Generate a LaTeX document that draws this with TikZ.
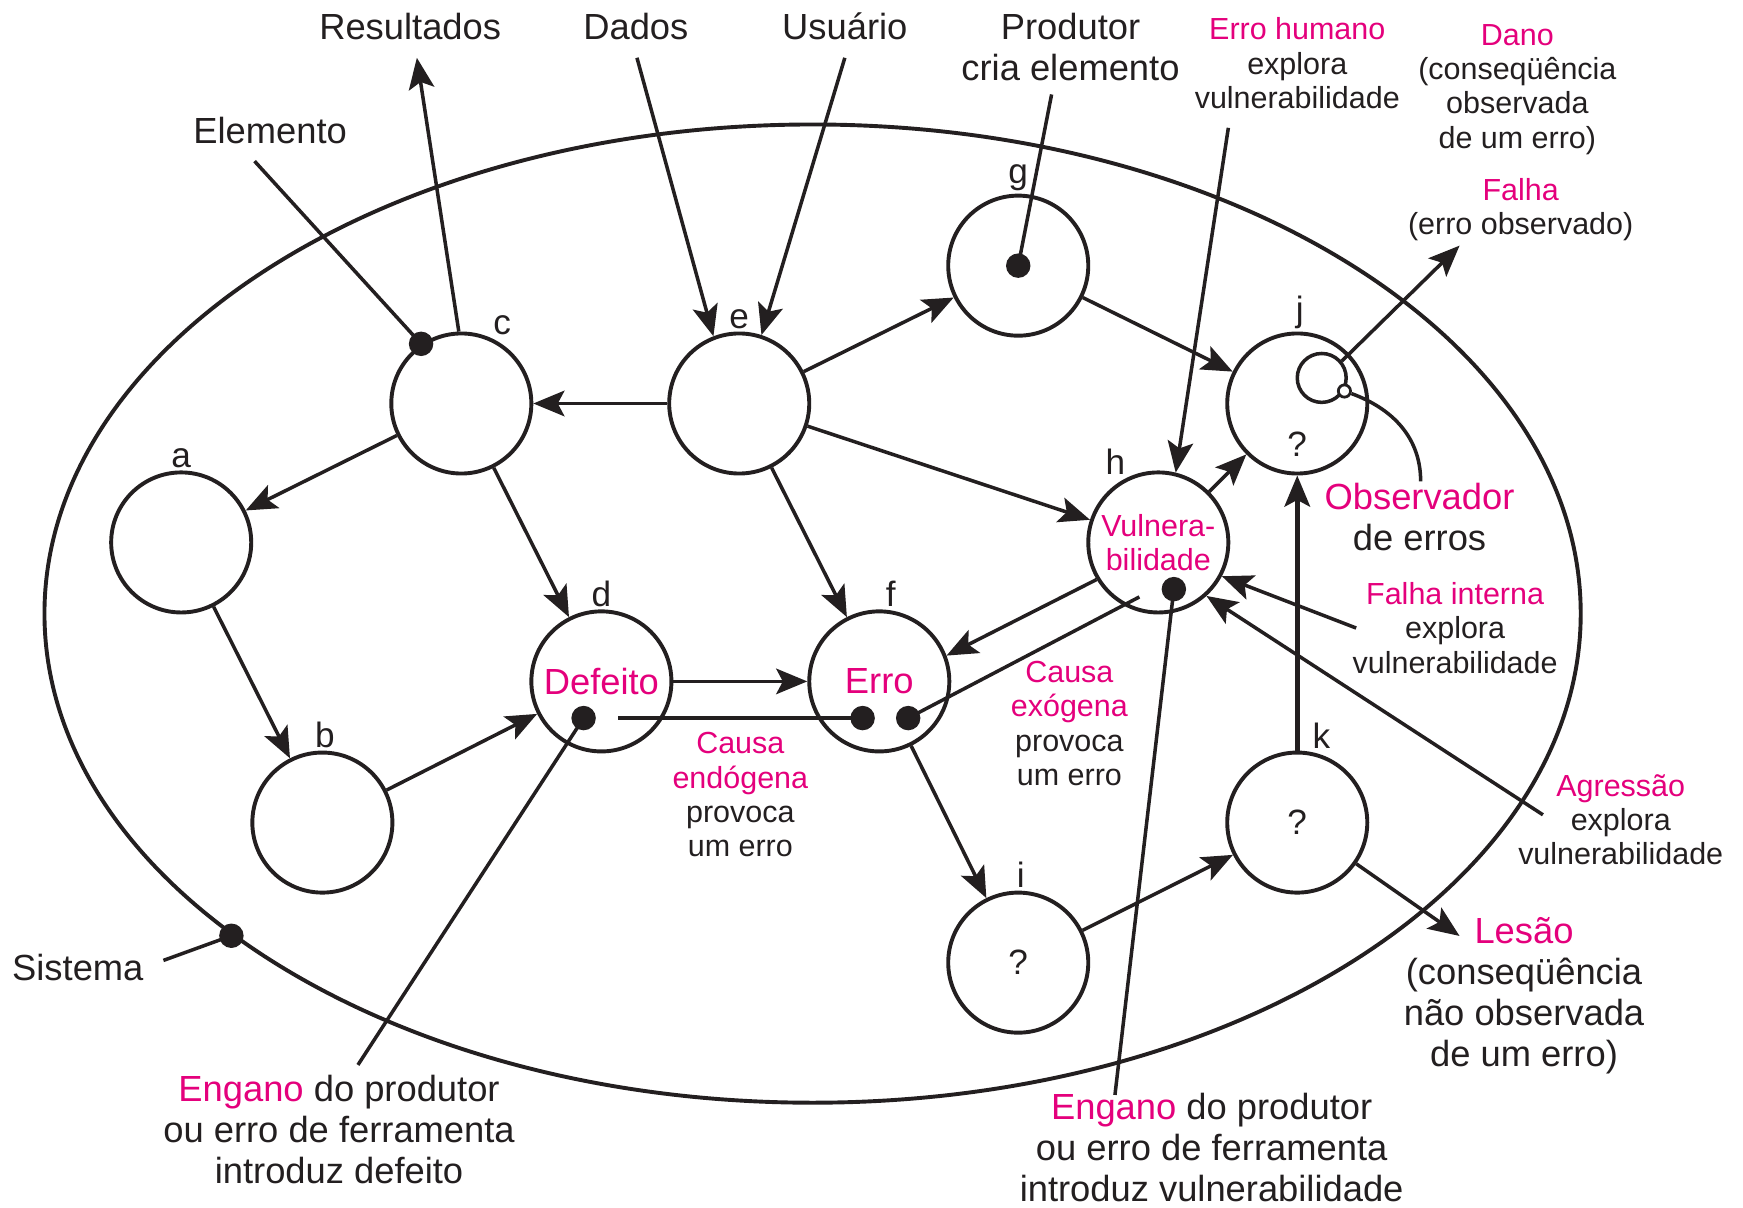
\documentclass[tikz,border=0pt]{standalone}
\usepackage{fontspec}
\setmainfont{Liberation Sans}
\usepackage{xcolor}
\usetikzlibrary{arrows.meta, calc, positioning, shapes.geometric}
\definecolor{rosa}{RGB}{228,0,124}
\definecolor{tinta}{RGB}{35,31,32}
\newcommand{\grande}{\fontsize{9.3}{10.5}\selectfont}
\newcommand{\pequena}{\fontsize{7.8}{8.8}\selectfont}
\newcommand{\media}{\fontsize{9}{10}\selectfont}
\newcommand{\rosa}[1]{\textcolor{rosa}{#1}}
\tikzset{
  % Graph arrow style
  garr/.style={
    -{Stealth[length=2.8mm, width=2.3mm, inset=0.6mm]},
    line width = 0.9pt
  },
  gline/.style={line width = 0.9pt},
  % elements of the system
  elem/.style={circle, draw, line width=1pt, minimum size=12.6mm,
    inner sep=0pt, font=\media},
  lbl/.style={font=\media, inner sep=0.5pt},
  bola/.style={circle, fill, inner sep=0pt, minimum size=2.2mm},
  anel/.style={circle, draw, line width=0.9pt, minimum size=4.4mm, inner sep=0pt},
  furo/.style={circle, draw, fill=white, line width=0.7pt, minimum size=1.1mm, inner sep=0pt},
  txtg/.style={align=center, font=\grande},
  txtp/.style={align=center, font=\pequena},
}

\begin{document}
\begin{tikzpicture}[color=tinta, text=tinta]
      \useasboundingbox (0,0) rectangle (15.68,10.86);

      % the system
      \node[draw, ellipse, line width=1pt, minimum width=13.82cm,
        minimum height=8.80cm, inner sep=0pt] (sis) at (7.31,5.34) {};

      % elements
      \node[elem, label={[lbl]90:a}] (a) at (1.63,5.98) {};
      \node[elem, label={[lbl]88:b}] (b) at (2.90,3.46) {};
      \node[elem, label={[lbl]66:c}] (c) at (4.15,7.23) {};
      \node[elem, label={[lbl]90:d}, font=\grande, text=rosa] (d) at (5.41,4.73) {Defeito};
      \node[elem, label={[lbl]90:e}] (e) at (6.65,7.23) {};
      \node[elem, label={[lbl]87:f}, font=\grande, text=rosa] (f) at (7.91,4.73) {Erro};
      \node[elem, label={[lbl]90:g}] (g) at (9.16,8.47) {};
      \node[elem, label={[lbl]115:h}, font=\pequena, text=rosa, align=center] (h) at (10.42,5.98) {Vulnera-\\bilidade};
      \node[elem, label={[lbl]88:i}] (i) at (9.16,2.20) {?};
      \node[elem, label={[lbl]88:j}] (j) at (11.67,7.23) {};
      \node[elem, label={[lbl]80:k}] (k) at (11.67,3.46) {?};
      \node[lbl] (jq) at ($(j)+(0,-0.37)$) {?};

      % observer inside j
      \node[anel] (jo) at ($(j)+(0.22,0.23)$) {};
      \node[furo] (jp) at (jo.-30) {};

      % pins
      \node[bola] (cpin) at (c.124) {};
      \node[bola] (gpin) at (g) {};
      \node[bola] (dpin) at ($(d)+(-0.16,-0.33)$) {};
      \node[bola] (fpin1) at ($(f)+(-0.15,-0.33)$) {};
      \node[bola] (fpin2) at ($(f)+(0.26,-0.33)$) {};
      \node[bola] (hpin) at ($(h)+(0.14,-0.42)$) {};
      \node[bola] (spin) at (sis.209) {};
      \coordinate (dEndo) at ($(d)+(0.15,-0.33)$);
      \coordinate (hExo) at ($(h)+(-0.17,-0.49)$);

      % texts
      \node[txtg] (resultados) at (3.69,10.62) {Resultados};
      \node[txtg] (dados) at (5.72,10.62) {Dados};
      \node[txtg] (usuario) at (7.60,10.62) {Usuário};
      \node[txtg] (produtor) at (9.63,10.435) {Produtor\\cria elemento};
      \node[txtg] (elemento) at (2.43,9.69) {Elemento};
      \node[txtp] (humano) at (11.67,10.29) {\rosa{Erro humano}\\explora\\vulnerabilidade};
      \node[txtp] (dano) at (13.65,10.055) {\rosa{Dano}\\(conseqüência\\observada\\de um erro)};
      \node[txtp] (falha) at (13.68,8.975) {\rosa{Falha}\\(erro observado)};
      \node[txtg] (observador) at (12.77,6.205) {\rosa{Observador}\\de erros};
      \node[txtp] (interna) at (13.09,5.21) {\rosa{Falha interna}\\explora\\vulnerabilidade};
      \node[txtp] (agressao) at (14.58,3.485) {\rosa{Agressão}\\explora\\vulnerabilidade};
      \node[txtg] (lesao) at (13.71,1.905) {\rosa{Lesão}\\(conseqüência\\não observada\\de um erro)};
      \node[txtp] (endo) at (6.66,3.71) {\rosa{Causa}\\\rosa{endógena}\\provoca\\um erro};
      \node[txtp] (exo) at (9.62,4.35) {\rosa{Causa}\\\rosa{exógena}\\provoca\\um erro};
      \node[txtg] (engano1) at (3.05,0.695) {\rosa{Engano} do produtor\\ou erro de ferramenta\\introduz defeito};
      \node[txtg] (engano2) at (10.90,0.535) {\rosa{Engano} do produtor\\ou erro de ferramenta\\introduz vulnerabilidade};
      \node[txtg] (sistema) at (0.70,2.16) {Sistema};

      % free ends
      \coordinate (pRes) at (3.75,10.34);
      \coordinate (pDad) at (5.73,10.34);
      \coordinate (pUsu) at (7.60,10.34);
      \coordinate (pProd) at (9.46,10.01);
      \coordinate (pElem) at (2.29,9.41);
      \coordinate (pHum) at (11.05,9.71);
      \coordinate (pFalha) at (13.13,8.65);
      \coordinate (pObs) at (12.78,6.53);
      \coordinate (pInt) at (12.20,5.21);
      \coordinate (pAgr) at (13.88,3.53);
      \coordinate (pLes) at (13.13,2.44);
      \coordinate (pEng2) at (10.03,1.01);
      \coordinate (pEng1) at (3.22,1.28);
      \coordinate (pSis) at (1.47,2.22);

      % connectors
      \draw[garr] (c.92) -- (pRes);
      \draw[garr] (pDad) -- (e.111);
      \draw[garr] (pUsu) -- (e.72);
      \draw[gline] (pProd) -- (gpin.center);
      \draw[gline] (pElem) -- (cpin.center);
      \draw[garr] (pHum) -- (h.76);
      \draw[garr] (e) -- (c);
      \draw[garr] (c) -- (a);
      \draw[garr] (a) -- (b);
      \draw[garr] (b) -- (d);
      \draw[garr] (c) -- (d);
      \draw[garr] (e) -- (g);
      \draw[garr] (e) -- (h);
      \draw[garr] (e) -- (f);
      \draw[garr] (g) -- (j);
      \draw[garr] (h) -- (j);
      \draw[garr, line width=1.2pt] (k) -- (j);
      \draw[garr] (d) -- (f);
      \draw[garr] (h.211) -- (f.21);
      \draw[garr] (f) -- (i);
      \draw[garr] (i) -- (k);
      \draw[garr] (k) -- (pLes);
      \draw[garr] (pInt) -- (h.-28);
      \draw[garr] (pAgr) -- (h.-48);
      \draw[garr] (jo.40) -- (pFalha);
      \draw[gline] (jp) to[out=-20, in=90] (pObs);
      \draw[gline] (dEndo) -- (fpin1.center);
      \draw[gline] (fpin2.center) -- (hExo);
      \draw[gline] (dpin.center) -- (pEng1);
      \draw[gline] (hpin.center) -- (pEng2);
      \draw[gline] (pSis) -- (spin.center);
\end{tikzpicture}
\end{document}
